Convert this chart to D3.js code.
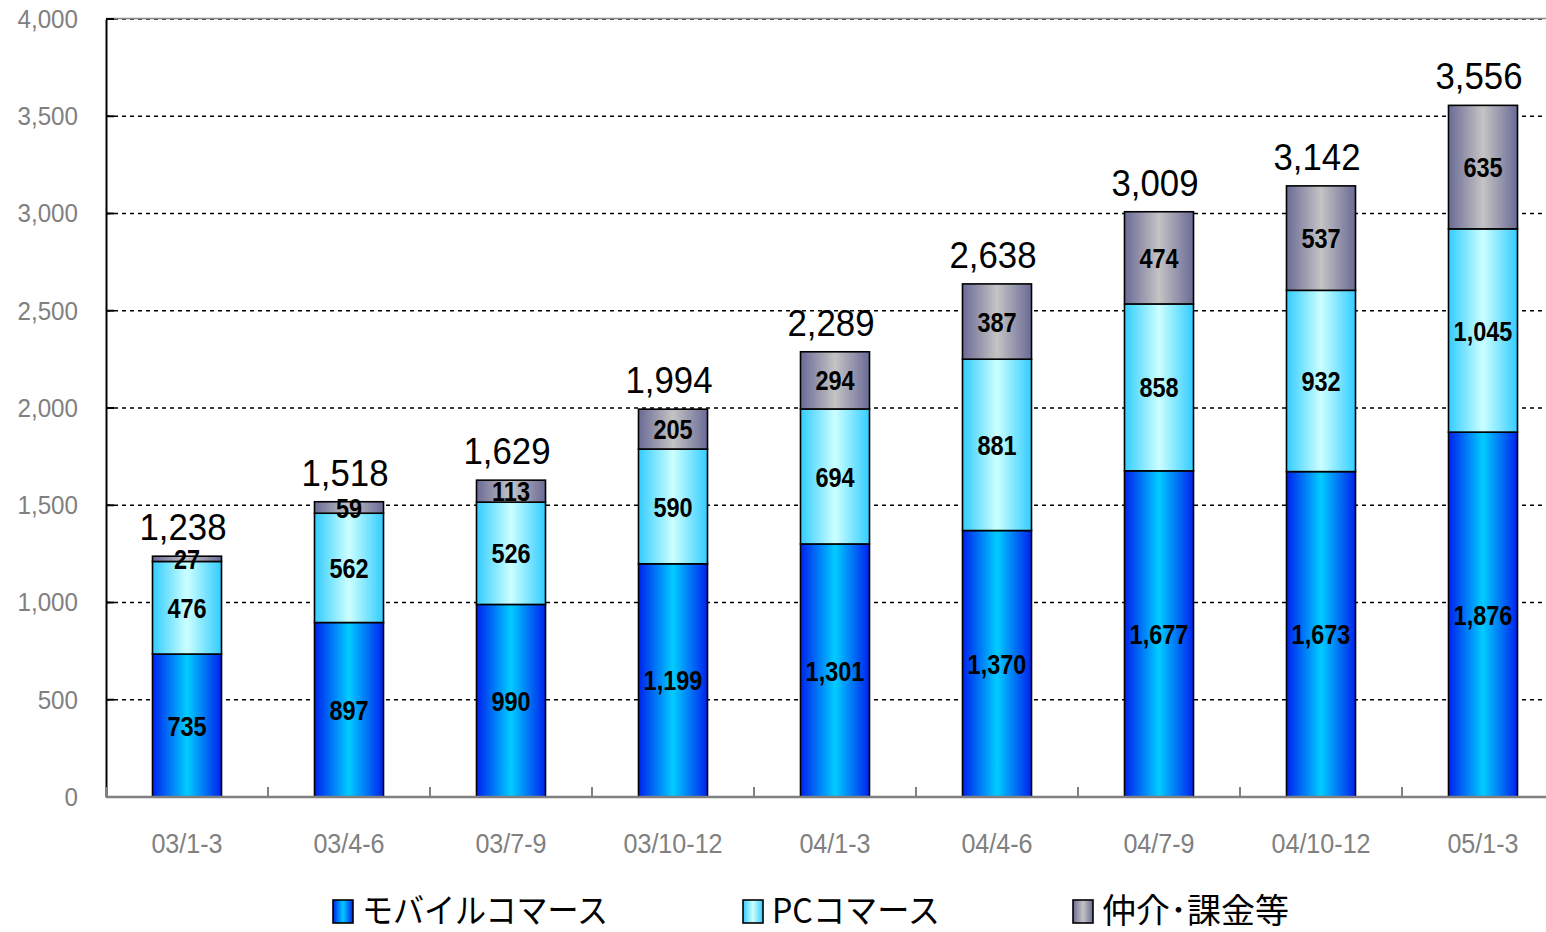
<!DOCTYPE html>
<html><head><meta charset="utf-8">
<script src="https://cdn.jsdelivr.net/npm/d3@7"></script>
<style>body{margin:0;background:#fff}svg{display:block}</style>
</head><body>
<script>
const categories = ["03/1-3","03/4-6","03/7-9","03/10-12","04/1-3","04/4-6","04/7-9","04/10-12","05/1-3"];
const mobile = [735,897,990,1199,1301,1370,1677,1673,1876];
const pc = [476,562,526,590,694,881,858,932,1045];
const other = [27,59,113,205,294,387,474,537,635];
const totals = [1238,1518,1629,1994,2289,2638,3009,3142,3556];
const seriesNames = ["モバイルコマース","PCコマース","仲介･課金等"];
const yTicks = [0,500,1000,1500,2000,2500,3000,3500,4000];

const W = 1546, H = 932;
const fmt = d3.format(",");
const svg = d3.select("body").append("svg").attr("width", W).attr("height", H);
const defs = svg.append("defs");
function grad(id, edge, mid){
  const g = defs.append("linearGradient").attr("id", id).attr("x1","0%").attr("x2","100%").attr("y1","0%").attr("y2","0%");
  g.append("stop").attr("offset","0%").attr("stop-color",edge);
  g.append("stop").attr("offset","50%").attr("stop-color",mid);
  g.append("stop").attr("offset","100%").attr("stop-color",edge);
}
grad("gMob","#0022ee","#00ccff");
grad("gPc","#33ccff","#ccffff");
grad("gOth","#6a6a96","#c4c4c4");
const fills = ["url(#gMob)","url(#gPc)","url(#gOth)"];

const x0 = 106, plotTop = 19, plotBottom = 797;
const x = d3.scaleBand().domain(categories).range([x0, x0 + 162*9]).paddingInner(0.574).paddingOuter(0.287);
const y = d3.scaleLinear().domain([0,4000]).range([plotBottom, plotTop]);
const cx = c => x(c) + x.bandwidth()/2;

// gridlines
svg.append("g").selectAll("line").data(yTicks.filter(d=>d>0)).join("line")
  .attr("x1", x0).attr("x2", W).attr("y1", d=>y(d)).attr("y2", d=>y(d))
  .attr("stroke","#000").attr("stroke-width",1.6).attr("stroke-dasharray","4,4");
svg.append("line").attr("x1",x0).attr("x2",W).attr("y1",y(4000)-0.5).attr("y2",y(4000)-0.5).attr("stroke","#888").attr("stroke-width",1.5);

// y axis
const yAxis = svg.append("g").attr("transform",`translate(${x0},0)`)
  .call(d3.axisLeft(y).tickValues(yTicks).tickFormat(fmt).tickSize(0).tickPadding(0));
yAxis.select(".domain").attr("stroke","#000").attr("stroke-width",2);
yAxis.selectAll("text").attr("x",null).attr("fill","#808080")
  .attr("transform","translate(-28,0) scale(0.93,1)")
  .style("font-family","'Liberation Sans',Arial,sans-serif").style("font-size","26px");
svg.append("g").selectAll("line").data(yTicks).join("line")
  .attr("x1",x0).attr("x2",x0+8).attr("y1",d=>y(d)).attr("y2",d=>y(d)).attr("stroke","#000").attr("stroke-width",2);

// stacked bars
const stackData = categories.map((c,i)=>({cat:c, m:mobile[i], p:pc[i], o:other[i]}));
const stack = d3.stack().keys(["m","p","o"])(stackData);
const gBars = svg.append("g");
stack.forEach((layer, li)=>{
  gBars.append("g").selectAll("rect").data(layer).join("rect")
    .attr("x", d=>x(d.data.cat)).attr("width", x.bandwidth())
    .attr("y", d=>y(d[1])).attr("height", d=>y(d[0])-y(d[1]))
    .attr("fill", fills[li]).attr("stroke","#000").attr("stroke-width",1.6);
});
// segment labels
stack.forEach((layer, li)=>{
  gBars.append("g").selectAll("text").data(layer).join("text")
    .attr("transform", d=>`translate(${cx(d.data.cat)},${(y(d[0])+y(d[1]))/2}) scale(0.84,1)`)
    .attr("dy","0.36em").attr("text-anchor","middle")
    .style("font-family","'Liberation Sans',Arial,sans-serif")
    .style("font-weight","bold").style("font-size","28px").attr("fill","#000")
    .text(d=>fmt(d[1]-d[0]));
});
// totals
svg.append("g").selectAll("text").data(categories).join("text")
  .attr("transform", (c,i)=>`translate(${cx(c)-4},${y(totals[i]) - 16}) scale(0.94,1)`)
  .attr("text-anchor","middle")
  .style("font-family","'Liberation Sans',Arial,sans-serif").style("font-size","37px").attr("fill","#000")
  .text((c,i)=>fmt(totals[i]));

// x axis
svg.append("line").attr("x1",x0).attr("x2",W).attr("y1",plotBottom).attr("y2",plotBottom).attr("stroke","#808080").attr("stroke-width",2.5);
const bounds = d3.range(0,10).map(i=>x0 + 162*i);
svg.append("g").selectAll("line").data(bounds).join("line")
  .attr("x1",d=>d).attr("x2",d=>d).attr("y1",plotBottom).attr("y2",plotBottom-10).attr("stroke","#808080").attr("stroke-width",2);
svg.append("g").selectAll("text").data(categories).join("text")
  .attr("transform", c=>`translate(${cx(c)},853) scale(0.93,1)`).attr("text-anchor","middle")
  .style("font-family","'Liberation Sans',Arial,sans-serif").style("font-size","27px").attr("fill","#808080")
  .text(c=>c);

// legend
const legX = [333, 743, 1073];
const legW = [246, 168, 187];
const leg = svg.append("g");
seriesNames.forEach((n,i)=>{
  leg.append("rect").attr("x",legX[i]).attr("y",900).attr("width",20).attr("height",23)
    .attr("fill",fills[i]).attr("stroke","#000").attr("stroke-width",1.6);
  leg.append("text").attr("x",legX[i]+29).attr("y",923)
    .style("font-family","'Noto Sans CJK JP',sans-serif").style("font-size","34px").attr("fill","#000")
    .attr("textLength",legW[i]).attr("lengthAdjust","spacingAndGlyphs")
    .text(n);
});
</script>
</body></html>
